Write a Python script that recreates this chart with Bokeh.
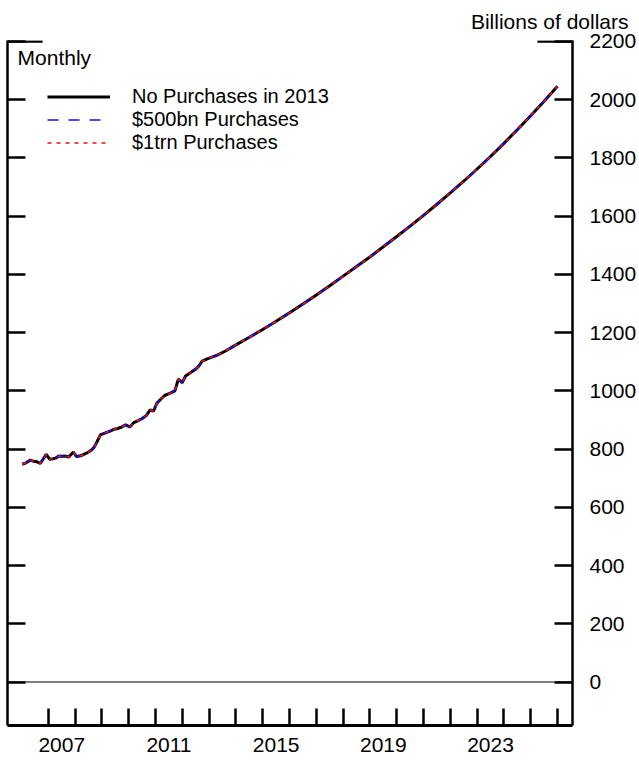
from bokeh.plotting import figure
from bokeh.models import (Range1d, LinearAxis, FixedTicker, Span, Legend,
                          LegendItem, ColumnDataSource, Title, Label)
from bokeh.embed import file_html
from bokeh.resources import INLINE

# ---------------- data ----------------
dates = [2006.02, 2006.15, 2006.33, 2006.45, 2006.55, 2006.70, 2006.80, 2006.92,
         2007.05, 2007.17, 2007.27, 2007.39, 2007.52, 2007.64, 2007.76, 2007.93,
         2008.05, 2008.15, 2008.26, 2008.40, 2008.51, 2008.62, 2008.70, 2008.82,
         2008.94, 2009.13, 2009.30, 2009.44, 2009.56, 2009.69, 2009.88, 2010.04,
         2010.19, 2010.35, 2010.50, 2010.65, 2010.80, 2010.92, 2011.05, 2011.20,
         2011.35, 2011.55, 2011.72, 2011.85, 2011.99, 2012.12, 2012.30, 2012.49,
         2012.61, 2012.74, 2012.93, 2013.30, 2013.61, 2014.00, 2014.50, 2015.00,
         2015.50, 2016.00, 2016.50, 2017.00, 2017.50, 2018.00, 2018.50, 2019.00,
         2019.50, 2020.00, 2020.50, 2021.00, 2021.50, 2022.00, 2022.50, 2023.00,
         2023.50, 2024.00, 2024.50, 2025.00, 2025.50, 2026.00]

no_purchases_2013 = [748, 752, 762, 758, 757, 751, 765, 782,
                     765, 767, 769, 776, 775, 776, 773, 790,
                     774, 776, 779, 785, 791, 798, 805, 826,
                     849, 856, 862, 868, 870, 874, 883, 876,
                     891, 898, 905, 915, 935, 930, 958, 972,
                     985, 992, 1000, 1040, 1028, 1051, 1062, 1074,
                     1085, 1102, 1110, 1123, 1137, 1158, 1184, 1211,
                     1239, 1268, 1298, 1329, 1361, 1394, 1427, 1460,
                     1495, 1530, 1566, 1603, 1641, 1680, 1720, 1762,
                     1805, 1850, 1897, 1945, 1995, 2046]
purchases_500bn = list(no_purchases_2013)
purchases_1trn = list(no_purchases_2013)

series_names = ["No Purchases in 2013", "$500bn Purchases", "$1trn Purchases"]
year_ticks = list(range(2007, 2027))
year_labels = ["2007", "2011", "2015", "2019", "2023"]
y_ticks = [0, 200, 400, 600, 800, 1000, 1200, 1400, 1600, 1800, 2000, 2200]

FONT = "Liberation Sans"

x0, x1 = 2005.474, 2026.56
y0, y1 = -149.4, 2203.4

p = figure(width=639, height=763, output_backend="svg", toolbar_location=None,
           x_range=Range1d(x0, x1), y_range=Range1d(y0, y1),
           x_axis_location=None, y_axis_location=None,
           min_border_left=7, min_border_right=67, min_border_top=40,
           min_border_bottom=38)
p.outline_line_color = None
p.grid.visible = False
p.background_fill_color = "white"
p.border_fill_color = "white"

# units caption above the right axis
p.add_layout(Title(text="Billions of dollars", align="right", offset=-56, standoff=15,
                   text_font=FONT, text_font_size="21px", text_font_style="normal",
                   text_color="black"), "above")

# bottom axis: year ticks (minor) and labels between ticks (major)
label_pos = [int(s) + 0.5 for s in year_labels]
xa = LinearAxis(ticker=FixedTicker(ticks=label_pos, minor_ticks=year_ticks),
                major_label_overrides={pos: lab for pos, lab in zip(label_pos, year_labels)},
                major_tick_in=0, major_tick_out=0,
                minor_tick_in=17, minor_tick_out=0,
                minor_tick_line_width=2.5, minor_tick_line_color="black",
                axis_line_width=3, axis_line_color="black",
                major_label_standoff=12,
                major_label_text_font=FONT, major_label_text_font_size="21px",
                major_label_text_color="black")
p.add_layout(xa, "below")

# right axis with labels
ya = LinearAxis(ticker=FixedTicker(ticks=y_ticks),
                major_tick_in=18, major_tick_out=0,
                minor_tick_in=0, minor_tick_out=0,
                major_tick_line_width=2.5, axis_line_width=2.5,
                major_label_standoff=17,
                major_label_text_font=FONT, major_label_text_font_size="21px",
                major_label_text_color="black")
p.add_layout(ya, "right")

# left axis, ticks only
ya2 = LinearAxis(ticker=FixedTicker(ticks=y_ticks),
                 major_tick_in=18, major_tick_out=0,
                 minor_tick_in=0, minor_tick_out=0,
                 major_tick_line_width=2.5, axis_line_width=2.5,
                 major_label_standoff=0,
                 major_label_overrides={t: "" for t in y_ticks},
                 major_label_text_font_size="0px")
p.add_layout(ya2, "left")

# longer top ticks at 2200
top_len = 1.31
p.segment(x0=[x0, x1 - top_len], y0=[y_ticks[-1]] * 2,
          x1=[x0 + top_len, x1], y1=[y_ticks[-1]] * 2,
          line_color="black", line_width=2.5)

# zero line
p.add_layout(Span(location=0, dimension="width", line_color="black", line_width=1.2))

src = ColumnDataSource(dict(x=dates, a=no_purchases_2013, b=purchases_500bn, c=purchases_1trn))
r1 = p.line("x", "a", source=src, line_color="black", line_width=3)
r2 = p.line("x", "b", source=src, line_color="#1010F0", line_width=1.6, line_dash="11 10")
r3 = p.line("x", "c", source=src, line_color="#F01010", line_width=1.6, line_dash="4 5")

# legend: one single-row legend per series, stacked
row_offsets = [617, 594, 571]
for name, rend, yoff in zip(series_names, [r1, r2, r3], row_offsets):
    lg = Legend(items=[LegendItem(label=name, renderers=[rend])],
                location=(40, yoff), orientation="vertical",
                glyph_width=63, glyph_height=23, label_height=23,
                label_standoff=22, spacing=0, padding=0, margin=0,
                border_line_color=None, background_fill_alpha=0,
                label_text_font=FONT, label_text_font_size="20px",
                label_text_color="black")
    p.add_layout(lg, "center")

p.add_layout(Label(x=2005.85, y=2144, text="Monthly", text_font=FONT,
                   text_font_size="21px", text_baseline="middle", text_color="black"))

open("out.html", "w").write(file_html(p, INLINE))
